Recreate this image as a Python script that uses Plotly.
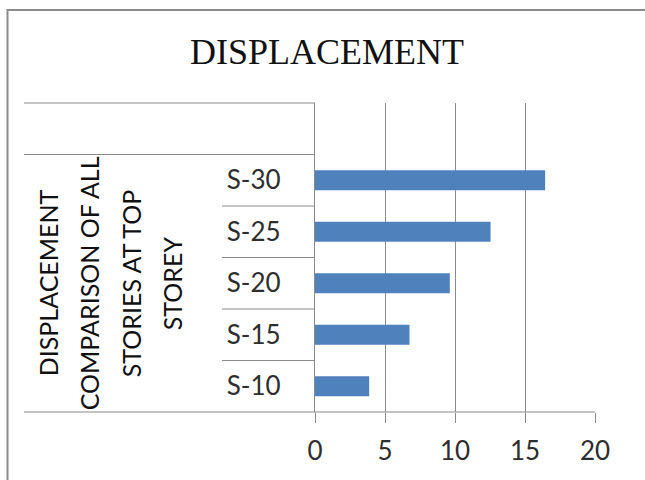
import plotly.graph_objects as go

# Chart data
categories = ["S-10", "S-15", "S-20", "S-25", "S-30"]
displacement = [3.87, 6.75, 9.63, 12.54, 16.44]
x_ticks = [0, 5, 10, 15, 20]
title_text = "DISPLACEMENT"
group_lines = ["DISPLACEMENT", "COMPARISON OF ALL", "STORIES AT TOP", "STOREY"]

W, H = 645, 480
L, R, T, B = 315, 50, 103, 68
plot_w = W - L - R
plot_h = H - T - B
n_slots = len(categories) + 1  # one empty slot above the top category

LINE = "#8a8a8a"
TEXT = "#2e2e2e"


def px_x(p):
    return (p - L) / plot_w


def slot_y(v):
    # data position on the category axis -> paper fraction
    return (v + 0.5) / n_slots


y_pos = list(range(len(categories)))

fig = go.Figure(
    go.Bar(
        x=displacement,
        y=y_pos,
        orientation="h",
        width=0.39,
        marker=dict(color="#4F81BD", line=dict(width=0)),
        hoverinfo="x",
    )
)

shapes = []
# boundaries between categories (short table rules)
for k in range(len(categories) - 1):
    yb = slot_y(k + 0.5)
    shapes.append(dict(type="line", xref="paper", yref="paper",
                       x0=px_x(222), x1=0, y0=yb, y1=yb,
                       line=dict(color=LINE, width=1.2)))
# long table rules spanning the group column
for v in (len(categories) - 0.5, len(categories) + 0.5):
    yb = slot_y(v)
    shapes.append(dict(type="line", xref="paper", yref="paper",
                       x0=px_x(24), x1=0, y0=yb, y1=yb,
                       line=dict(color=LINE, width=1.2)))
# bottom rule across the table and plot
shapes.append(dict(type="line", xref="paper", yref="paper",
                   x0=px_x(24), x1=1, y0=0, y1=0,
                   line=dict(color=LINE, width=1.2)))
# outer chart frame
shapes.append(dict(type="rect", xref="paper", yref="paper",
                   x0=px_x(7.5), x1=px_x(660), y0=(H - B - 10) / plot_h,
                   y1=-(B + 20) / plot_h,
                   line=dict(color="#8c8c8c", width=2),
                   fillcolor="rgba(0,0,0,0)"))

annotations = []
line_x = [48, 89, 131, 172]
for txt, cx in zip(group_lines, line_x):
    annotations.append(dict(
        text=txt, xref="paper", yref="paper",
        x=px_x(cx), y=slot_y((len(categories) - 1) / 2),
        xanchor="center", yanchor="middle", textangle=-90,
        showarrow=False,
        font=dict(family="Lato", size=25, color="#111111"),
    ))

fig.update_layout(
    width=W, height=H,
    margin=dict(l=L, r=R, t=T, b=B, pad=0),
    paper_bgcolor="white",
    plot_bgcolor="white",
    showlegend=False,
    title=dict(
        text=title_text,
        x=327 / W, xref="container", xanchor="center",
        y=1 - 51 / H, yref="container", yanchor="middle",
        font=dict(family="Liberation Serif", size=36, color="#111111"),
    ),
    xaxis=dict(
        range=[0, 20],
        tickvals=x_ticks,
        ticktext=[str(t) for t in x_ticks],
        showgrid=True, gridcolor=LINE, gridwidth=1.2,
        zeroline=False,
        showline=False,
        ticks="outside", ticklen=10, tickcolor=LINE, tickwidth=1.2,
        tickfont=dict(family="Lato", size=26, color=TEXT),
        ticklabelstandoff=6,
        fixedrange=True,
    ),
    yaxis=dict(
        range=[-0.5, n_slots - 0.5],
        tickvals=y_pos,
        ticktext=categories,
        showgrid=False, zeroline=False,
        showline=True, linecolor=LINE, linewidth=1.2,
        ticks="", ticklabelstandoff=28,
        tickfont=dict(family="Lato", size=26, color=TEXT),
        fixedrange=True,
    ),
    shapes=shapes,
    annotations=annotations,
)

fig.write_html("out.html")
